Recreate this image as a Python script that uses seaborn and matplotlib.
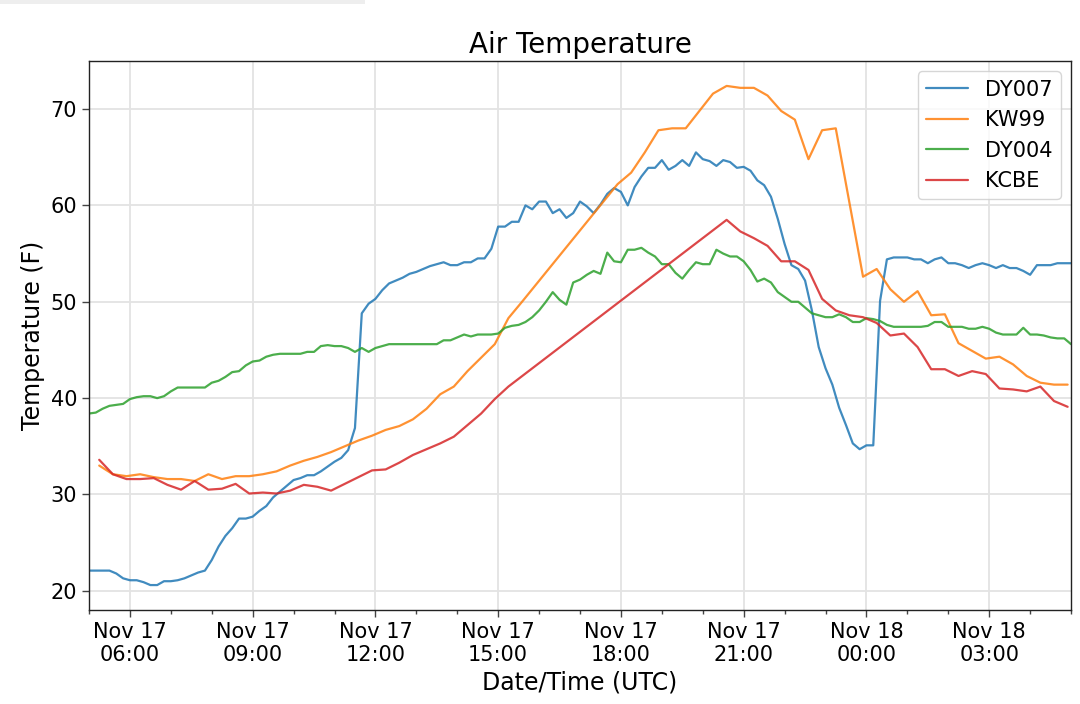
import matplotlib
matplotlib.use('Agg')
import matplotlib.pyplot as plt
import matplotlib.dates as mdates
import numpy as np
import pandas as pd
import seaborn as sns

sns.set_theme(style='ticks', context='notebook')
plt.rcParams['font.family'] = ['DejaVu Sans']
plt.rcParams.update({'text.color': 'black', 'axes.labelcolor': 'black',
                     'xtick.color': 'black', 'ytick.color': 'black'})

# --- data ---
# DY007 / DY004: 10-minute obs, 2020-11-17 05:00 -> 2020-11-18 05:00
dy_start = '2020-11-17 05:00'
dy007 = [22.1, 22.1, 22.1, 22.1, 21.8, 21.3, 21.1, 21.1, 20.9, 20.6, 20.6, 21.0,
         21.0, 21.1, 21.3, 21.6, 21.9, 22.1, 23.2, 24.6, 25.7, 26.5, 27.5, 27.5,
         27.7, 28.3, 28.8, 29.7, 30.3, 30.9, 31.5, 31.7, 32.0, 32.0, 32.4, 32.9,
         33.4, 33.8, 34.6, 36.9, 48.8, 49.8, 50.3, 51.2, 51.9, 52.2, 52.5, 52.9,
         53.1, 53.4, 53.7, 53.9, 54.1, 53.8, 53.8, 54.1, 54.1, 54.5, 54.5, 55.5,
         57.8, 57.8, 58.3, 58.3, 60.0, 59.6, 60.4, 60.4, 59.2, 59.6, 58.7, 59.2,
         60.4, 59.9, 59.2, 60.1, 61.2, 61.8, 61.4, 60.0, 61.9, 63.0, 63.9, 63.9,
         64.7, 63.7, 64.1, 64.7, 64.1, 65.5, 64.8, 64.6, 64.1, 64.7, 64.5, 63.9,
         64.0, 63.6, 62.6, 62.1, 60.9, 58.6, 56.0, 53.8, 53.4, 52.2, 49.1, 45.3,
         43.1, 41.4, 39.0, 37.2, 35.3, 34.7, 35.1, 35.1, 50.1, 54.4, 54.6, 54.6,
         54.6, 54.4, 54.4, 54.0, 54.4, 54.6, 54.0, 54.0, 53.8, 53.5, 53.8, 54.0,
         53.8, 53.5, 53.8, 53.5, 53.5, 53.2, 52.8, 53.8, 53.8, 53.8, 54.0, 54.0,
         54.0]
dy004 = [38.4, 38.5, 38.9, 39.2, 39.3, 39.4, 39.9, 40.1, 40.2, 40.2, 40.0, 40.2,
         40.7, 41.1, 41.1, 41.1, 41.1, 41.1, 41.6, 41.8, 42.2, 42.7, 42.8, 43.4,
         43.8, 43.9, 44.3, 44.5, 44.6, 44.6, 44.6, 44.6, 44.8, 44.8, 45.4, 45.5,
         45.4, 45.4, 45.2, 44.8, 45.2, 44.8, 45.2, 45.4, 45.6, 45.6, 45.6, 45.6,
         45.6, 45.6, 45.6, 45.6, 46.0, 46.0, 46.3, 46.6, 46.4, 46.6, 46.6, 46.6,
         46.7, 47.3, 47.5, 47.6, 47.9, 48.4, 49.1, 50.0, 51.0, 50.2, 49.7, 52.0,
         52.3, 52.8, 53.2, 52.9, 55.1, 54.2, 54.1, 55.4, 55.4, 55.6, 55.1, 54.7,
         53.9, 53.9, 53.0, 52.4, 53.3, 54.1, 53.9, 53.9, 55.4, 55.0, 54.7, 54.7,
         54.2, 53.3, 52.1, 52.4, 52.0, 51.0, 50.5, 50.0, 50.0, 49.4, 48.8, 48.6,
         48.4, 48.4, 48.7, 48.4, 47.9, 47.9, 48.3, 48.2, 48.0, 47.6, 47.4, 47.4,
         47.4, 47.4, 47.4, 47.5, 47.9, 47.9, 47.4, 47.4, 47.4, 47.2, 47.2, 47.4,
         47.2, 46.8, 46.6, 46.6, 46.6, 47.3, 46.6, 46.6, 46.5, 46.3, 46.2, 46.2,
         45.6]

# KW99 / KCBE: 20-minute obs, 05:15 -> 04:55, None = missing
stn_start = '2020-11-17 05:15'
kw99 = [33.0, 32.1, 31.9, 32.1, 31.8, 31.6, 31.6, 31.4, 32.1, 31.6, 31.9, 31.9,
        32.1, 32.4, 33.0, 33.5, 33.9, 34.4, 35.0, 35.6, 36.1, 36.7, 37.1, 37.8,
        38.9, 40.4, 41.2, 42.8, 44.2, 45.6, 48.3, 50.0, None, None, None, None,
        None, None, 62.2, 63.4, 65.5, 67.8, 68.0, 68.0, 69.8, 71.6, 72.4, 72.2,
        72.2, 71.4, 69.8, 68.9, 64.8, 67.8, 68.0, None, 52.6, 53.4, 51.3, 50.0,
        51.1, 48.6, 48.7, 45.7, 44.9, 44.1, 44.3, 43.5, 42.3, 41.6, 41.4, 41.4]
kcbe = [33.6, 32.1, 31.6, 31.6, 31.7, 31.0, 30.5, 31.4, 30.5, 30.6, 31.1, 30.1,
        30.2, 30.1, 30.4, 31.0, 30.8, 30.4, 31.1, 31.8, 32.5, 32.6, 33.3, 34.1,
        34.7, 35.3, 36.0, 37.2, 38.4, 39.9, 41.2, None, None, None, None, None,
        None, None, None, None, None, None, None, None, None, None, 58.5, 57.3,
        56.6, 55.8, 54.2, 54.2, 53.3, 50.3, 49.1, 48.6, 48.4, 47.8, 46.5, 46.7,
        45.3, 43.0, 43.0, 42.3, 42.8, 42.5, 41.0, 40.9, 40.7, 41.2, 39.7, 39.1]

stations = ['DY007', 'KW99', 'DY004', 'KCBE']
colors = ['#1f77b4', '#ff7f0e', '#2ca02c', '#d62728']

dy_times = pd.date_range(dy_start, periods=len(dy007), freq='10min')
stn_times = pd.date_range(stn_start, periods=len(kw99), freq='20min')

frames = {
    'DY007': pd.DataFrame({'time': dy_times, 'temp': dy007}),
    'KW99': pd.DataFrame({'time': stn_times, 'temp': kw99}),
    'DY004': pd.DataFrame({'time': dy_times, 'temp': dy004}),
    'KCBE': pd.DataFrame({'time': stn_times, 'temp': kcbe}),
}

fig, ax = plt.subplots(figsize=(10.8, 7.04), dpi=100)
fig.subplots_adjust(left=0.0824, right=0.9917, top=0.9134, bottom=0.1335)

# faint strip along the top-left edge of the reference image
fig.patches.append(matplotlib.patches.Rectangle(
    (0, 0.995), 0.338, 0.005, transform=fig.transFigure,
    facecolor='#eeeeee', edgecolor='none'))

for name, color in zip(stations, colors):
    df = frames[name].dropna()
    sns.lineplot(data=df, x='time', y='temp', ax=ax, color=color,
                 label=name, linewidth=1.6, alpha=0.85, errorbar=None)

ax.set_xlim(dy_times[0], dy_times[-1])
ax.xaxis.set_major_locator(mdates.HourLocator(byhour=range(0, 24, 3)))
ax.xaxis.set_minor_locator(mdates.HourLocator())
ax.xaxis.set_major_formatter(mdates.DateFormatter('%b %d\n%H:%M'))
ax.yaxis.set_major_locator(matplotlib.ticker.MultipleLocator(10))

ax.tick_params(axis='both', which='major', labelsize=15, length=5, width=1, color='#444444')
ax.tick_params(axis='x', which='minor', length=3, width=1, color='#444444')
ax.grid(True, which='major', color='#e3e3e3', linewidth=1.3)
for side in ax.spines.values():
    side.set_edgecolor('#222222')
    side.set_linewidth(1.0)

ax.set_title('Air Temperature', fontsize=20)
ax.set_xlabel('Date/Time (UTC)', fontsize=17)
ax.set_ylabel('Temperature (F)', fontsize=17)
ax.legend(loc='upper right', fontsize=15, frameon=True)

fig.savefig('out.png', dpi=100)
